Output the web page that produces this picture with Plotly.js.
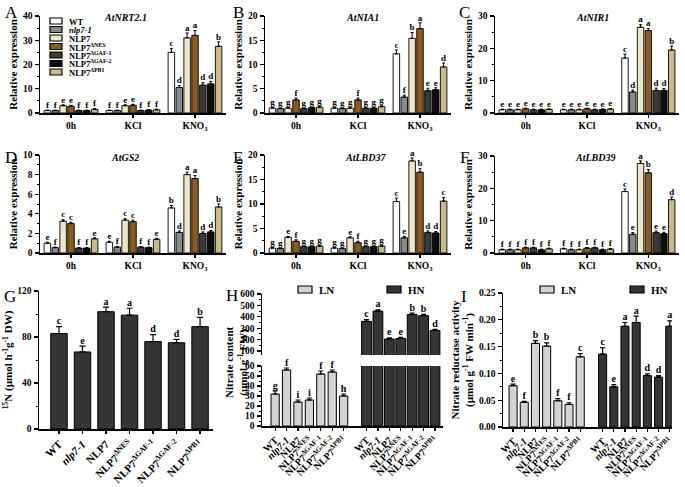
<!DOCTYPE html>
<html>
<head>
<meta charset="utf-8">
<script src="https://cdn.plot.ly/plotly-3.0.1.min.js"></script>
<style>html,body{margin:0;padding:0;background:#fff;}#chart{width:685px;height:487px;}</style>
</head>
<body>
<div id="chart"></div>
<script>
// ---------------- DATA ----------------
const seriesNames = ['WT', '<i>nlp7-1</i>', 'NLP7', 'NLP7<sup>ΔNES</sup>', 'NLP7<sup>ΔGAF-1</sup>', 'NLP7<sup>ΔGAF-2</sup>', 'NLP7<sup>ΔPB1</sup>'];
const treatments = ['0h', 'KCl', 'KNO<sub>3</sub>'];

// rows = treatments (0h, KCl, KNO3), columns = genotypes
const nrtMean = [[1.0, 1.0, 3.0, 2.8, 1.0, 1.0, 1.5], [1.0, 1.0, 3.0, 3.2, 1.0, 1.2, 1.3], [25, 10.5, 31, 32, 11.5, 12, 27.5]];
const nrtErr = [[0.2, 0.2, 0.4, 0.4, 0.2, 0.2, 0.3], [0.2, 0.2, 0.4, 0.4, 0.2, 0.2, 0.3], [1.5, 0.8, 2.0, 2.0, 1.0, 1.0, 1.8]];
const nrtLetters = [['f', 'f', 'e', 'e', 'f', 'f', 'f'], ['f', 'f', 'e', 'e', 'f', 'f', 'f'], ['c', 'd', 'a', 'a', 'd', 'd', 'b']];

const niaMean = [[1.0, 0.9, 1.0, 2.7, 0.9, 1.1, 1.2], [1.0, 0.9, 1.0, 2.7, 1.0, 1.0, 1.3], [12.2, 3.3, 15.4, 17.4, 4.6, 4.8, 9.5]];
const niaErr = [[0.15, 0.1, 0.15, 0.4, 0.1, 0.1, 0.2], [0.15, 0.1, 0.15, 0.4, 0.1, 0.1, 0.2], [0.8, 0.4, 1.2, 1.2, 0.5, 0.4, 0.8]];
const niaLetters = [['g', 'g', 'g', 'f', 'g', 'g', 'g'], ['g', 'g', 'g', 'f', 'g', 'g', 'g'], ['c', 'f', 'b', 'a', 'e', 'e', 'd']];

const nirMean = [[1.0, 1.0, 1.0, 1.3, 1.0, 1.0, 1.1], [1.0, 1.0, 1.0, 1.3, 1.0, 1.1, 1.2], [17, 6.5, 26.5, 25.5, 7.0, 7.0, 19.5]];
const nirErr = [[0.2, 0.2, 0.2, 0.2, 0.2, 0.2, 0.2], [0.2, 0.2, 0.2, 0.2, 0.2, 0.2, 0.2], [1.2, 0.6, 0.8, 0.6, 0.7, 0.6, 1.2]];
const nirLetters = [['e', 'e', 'e', 'e', 'e', 'e', 'e'], ['e', 'e', 'e', 'e', 'e', 'e', 'e'], ['c', 'd', 'a', 'a', 'd', 'd', 'b']];

const gs2Mean = [[1.0, 0.55, 3.25, 3.0, 0.5, 0.5, 1.45], [1.1, 0.6, 3.35, 3.2, 0.6, 0.55, 1.4], [4.6, 2.1, 8.0, 7.6, 2.0, 2.15, 4.7]];
const gs2Err = [[0.1, 0.05, 0.15, 0.15, 0.05, 0.05, 0.1], [0.1, 0.05, 0.15, 0.15, 0.05, 0.05, 0.1], [0.25, 0.15, 0.25, 0.3, 0.15, 0.15, 0.3]];
const gs2Letters = [['e', 'f', 'c', 'c', 'f', 'f', 'e'], ['e', 'f', 'c', 'c', 'f', 'f', 'e'], ['b', 'd', 'a', 'a', 'd', 'd', 'b']];

const lbd37Mean = [[1.0, 0.9, 3.2, 2.4, 1.3, 1.3, 1.4], [1.0, 0.9, 3.1, 2.1, 1.3, 1.3, 1.4], [10.5, 3.1, 18.8, 16.5, 4.2, 4.1, 10.6]];
const lbd37Err = [[0.15, 0.1, 0.2, 0.3, 0.1, 0.1, 0.15], [0.15, 0.1, 0.2, 0.3, 0.1, 0.1, 0.15], [0.7, 0.3, 0.6, 0.7, 0.3, 0.3, 0.7]];
const lbd37Letters = [['g', 'g', 'e', 'f', 'g', 'g', 'g'], ['g', 'g', 'e', 'f', 'g', 'g', 'g'], ['c', 'e', 'a', 'b', 'd', 'd', 'c']];

const lbd39Mean = [[1.0, 1.0, 1.0, 1.6, 1.6, 1.0, 1.3], [1.3, 1.0, 1.0, 1.5, 1.6, 1.0, 1.2], [19, 5.8, 27.7, 24.8, 6.3, 6.0, 16.5]];
const lbd39Err = [[0.2, 0.2, 0.2, 0.2, 0.2, 0.2, 0.2], [0.2, 0.2, 0.2, 0.2, 0.2, 0.2, 0.2], [0.8, 0.5, 0.8, 1.0, 0.5, 0.4, 0.8]];
const lbd39Letters = [['f', 'f', 'f', 'f', 'f', 'f', 'f'], ['f', 'f', 'f', 'f', 'f', 'f', 'f'], ['c', 'e', 'a', 'b', 'e', 'e', 'd']];

// G: 15N uptake
const n15Mean = [83, 67, 102, 99, 76, 75, 89];
const n15Err = [6, 5, 4, 6, 6, 3, 8];
const n15Letters = ['c', 'e', 'a', 'a', 'd', 'd', 'b'];

// H: nitrate content
const nitrateLN = [32, 56, 24, 26, 52, 54, 30];
const nitrateLNErr = [3, 2, 2, 2, 3, 2, 2];
const nitrateLNLetters = ['g', 'f', 'i', 'i', 'f', 'f', 'h'];
const nitrateHN = [360, 450, 205, 210, 420, 410, 280];
const nitrateHNErr = [15, 10, 10, 10, 12, 12, 10];
const nitrateHNLetters = ['c', 'a', 'e', 'e', 'b', 'b', 'd'];

// I: nitrate reductase activity
const nrLN = [0.077, 0.046, 0.156, 0.151, 0.049, 0.042, 0.131];
const nrLNErr = [0.003, 0.002, 0.005, 0.006, 0.004, 0.003, 0.006];
const nrLNLetters = ['e', 'f', 'b', 'b', 'f', 'f', 'c'];
const nrHN = [0.136, 0.075, 0.188, 0.195, 0.096, 0.093, 0.188];
const nrHNErr = [0.012, 0.004, 0.007, 0.012, 0.003, 0.003, 0.010];
const nrHNLetters = ['c', 'e', 'a', 'a', 'd', 'd', 'a'];

const conditionNames = ['LN', 'HN'];

// ---------------- STYLE / LAYOUT ----------------
const FONT = 'Liberation Serif, Times New Roman, serif';
const W = 685, HGT = 487;
const fx = p => p / W;
const fy = p => 1 - p / HGT;
const seriesColors = ['#ffffff', '#8a8a8a', '#efe6c8', '#8a5a1e', '#3a3a3a', '#0e0e0e', '#c9b98b'];
const lnColor = '#d3d3d3', hnColor = '#353535';

const traces = [];
const layout = {
  width: W, height: HGT, margin: {l: 0, r: 0, t: 0, b: 0},
  paper_bgcolor: '#fff', plot_bgcolor: 'rgba(0,0,0,0)',
  showlegend: false, barmode: 'overlay',
  font: {family: FONT, color: '#000', size: 9},
  annotations: [], shapes: []
};

function yAxisBase(extra) {
  return Object.assign({
    showline: true, linecolor: '#000', linewidth: 1.5, ticks: 'outside', ticklen: 4, tickwidth: 1.2, tickcolor: '#000',
    showgrid: false, zeroline: false, fixedrange: true, automargin: false,
    tickfont: {family: FONT, size: 9.5, weight: 'bold', color: '#000'}
  }, extra);
}
function xAxisBase(extra) {
  return Object.assign({
    showline: true, linecolor: '#000', linewidth: 1.5, ticks: 'outside', ticklen: 3, tickwidth: 1.2, tickcolor: '#000',
    showgrid: false, zeroline: false, fixedrange: true, automargin: false,
    tickfont: {family: FONT, size: 9.5, weight: 'bold', color: '#000'}
  }, extra);
}
function tag(letter, x, y) {
  layout.annotations.push({text: letter, x: fx(x), y: fy(y), xref: 'paper', yref: 'paper', showarrow: false,
    font: {family: FONT, size: 17, color: '#000'}, xanchor: 'center', yanchor: 'middle'});
}
function letterTrace(xa, ya, xs, ys, texts, size) {
  traces.push({type: 'scatter', mode: 'text', xaxis: xa, yaxis: ya, x: xs, y: ys, text: texts,
    textposition: 'top center', cliponaxis: false, hoverinfo: 'skip',
    textfont: {family: FONT, size: size || 9, weight: 'bold', color: '#000'}});
}

const genePanels = [
  {n: 1, px: [40, 226], py: [16, 113], max: 40, dtick: 10, mean: nrtMean, err: nrtErr, lets: nrtLetters, gene: 'AtNRT2.1', g: [125, 17], tag: 'A', t: [11, 12]},
  {n: 2, px: [265, 451], py: [16, 113], max: 20, dtick: 5, mean: niaMean, err: niaErr, lets: niaLetters, gene: 'AtNIA1', g: [362, 17], tag: 'B', t: [238, 12]},
  {n: 3, px: [495, 679], py: [16, 113], max: 30, dtick: 10, mean: nirMean, err: nirErr, lets: nirLetters, gene: 'AtNIR1', g: [592, 17], tag: 'C', t: [464, 12]},
  {n: 4, px: [40, 226], py: [155, 253], max: 10, dtick: 2, mean: gs2Mean, err: gs2Err, lets: gs2Letters, gene: 'AtGS2', g: [125, 157], tag: 'D', t: [11, 157]},
  {n: 5, px: [265, 451], py: [155, 253], max: 20, dtick: 5, mean: lbd37Mean, err: lbd37Err, lets: lbd37Letters, gene: 'AtLBD37', g: [365, 157], tag: 'E', t: [238, 157]},
  {n: 6, px: [495, 679], py: [156, 253], max: 30, dtick: 10, mean: lbd39Mean, err: lbd39Err, lets: lbd39Letters, gene: 'AtLBD39', g: [595, 157], tag: 'F', t: [465, 157]}
];
const slot = 0.127, barW = 0.105;

genePanels.forEach(p => {
  const xa = 'x' + (p.n === 1 ? '' : p.n), ya = 'y' + (p.n === 1 ? '' : p.n);
  const xk = 'xaxis' + (p.n === 1 ? '' : p.n), yk = 'yaxis' + (p.n === 1 ? '' : p.n);
  layout[xk] = xAxisBase({domain: [fx(p.px[0]), fx(p.px[1])], anchor: ya, range: [-0.5, 2.5],
    tickmode: 'array', tickvals: treatments.map((_, i) => i), ticktext: treatments});
  layout[yk] = yAxisBase({domain: [fy(p.py[1]), fy(p.py[0])], anchor: xa, range: [0, p.max], dtick: p.dtick,
    minor: {ticks: 'outside', ticklen: 2, dtick: p.dtick / 2, tickcolor: '#000', tickwidth: 1},
    title: {text: 'Relative expression', standoff: 3, font: {family: FONT, size: 11, weight: 'bold', color: '#000'}}});
  const lx = [], ly = [], lt = [];
  seriesNames.forEach((name, s) => {
    const xs = treatments.map((_, t) => t + (s - 3) * slot);
    const ys = p.mean.map(r => r[s]);
    const es = p.err.map(r => r[s]);
    traces.push({type: 'bar', name: name, xaxis: xa, yaxis: ya, x: xs, y: ys, width: barW,
      marker: {color: seriesColors[s], line: {color: '#000', width: 0.9}},
      error_y: {type: 'data', symmetric: false, array: es, arrayminus: es.map(() => 0), color: '#000', thickness: 1, width: 1.5}});
    xs.forEach((x, t) => { lx.push(x); ly.push(ys[t] + es[t]); lt.push(p.lets[t][s]); });
  });
  letterTrace(xa, ya, lx, ly, lt, 9);
  layout.annotations.push({text: '<b><i>' + p.gene + '</i></b>', x: fx(p.g[0]), y: fy(p.g[1]), xref: 'paper', yref: 'paper',
    showarrow: false, font: {family: FONT, size: 10, color: '#000'}, xanchor: 'center', yanchor: 'middle'});
  tag(p.tag, p.t[0], p.t[1]);
});

// Legend for A (manual)
seriesNames.forEach((name, s) => {
  const cy = 21 + s * 8.5;
  layout.shapes.push({type: 'rect', xref: 'paper', yref: 'paper', x0: fx(50), x1: fx(62), y0: fy(cy + 3), y1: fy(cy - 3),
    fillcolor: seriesColors[s], line: {color: '#000', width: 1.2}});
  layout.annotations.push({text: name, x: fx(67), y: fy(cy + 0.5), xref: 'paper', yref: 'paper', showarrow: false,
    xanchor: 'left', yanchor: 'middle', font: {family: FONT, size: 8.5, weight: 'bold', color: '#000'}});
});

// ---------------- G ----------------
const genoIdx = seriesNames.map((_, i) => i);
layout.xaxis7 = xAxisBase({domain: [fx(39), fx(213)], anchor: 'y7', range: [-0.85, 6.55], tickmode: 'array',
  tickvals: genoIdx, ticktext: seriesNames, tickangle: -45, tickfont: {family: FONT, size: 11, weight: 'bold', color: '#000'}});
layout.yaxis7 = yAxisBase({domain: [fy(429), fy(291)], anchor: 'x7', range: [0, 120], dtick: 40,
  minor: {ticks: 'outside', ticklen: 2, dtick: 20, tickcolor: '#000', tickwidth: 1},
  title: {text: '<sup>15</sup>N (µmol h<sup>-1</sup>g<sup>-1</sup> DW)', standoff: 2, font: {family: FONT, size: 11, weight: 'bold', color: '#000'}}});
traces.push({type: 'bar', xaxis: 'x7', yaxis: 'y7', x: genoIdx, y: n15Mean, width: 0.7,
  marker: {color: hnColor, line: {color: '#000', width: 1}},
  error_y: {type: 'data', symmetric: false, array: n15Err, arrayminus: n15Err.map(() => 0), color: '#000', thickness: 1.2, width: 3}});
letterTrace('x7', 'y7', genoIdx, n15Mean.map((v, i) => v + n15Err[i]), n15Letters, 10);
tag('G', 10, 296);

// ---------------- H (broken axis) ----------------
const hnShift = 8;
const lnX = genoIdx;
const hnX = genoIdx.map(i => i + hnShift);
const hTickVals = lnX.concat(hnX);
const hTickText = seriesNames.concat(seriesNames);
const rotFont = {family: FONT, size: 10, weight: 'bold', color: '#000'};
layout.xaxis8 = xAxisBase({domain: [fx(262), fx(443)], anchor: 'y8', range: [-1.15, 14.7], tickmode: 'array',
  tickvals: hTickVals, ticktext: hTickText, tickangle: -45, tickfont: rotFont});
layout.yaxis8 = yAxisBase({domain: [fy(426), fy(366)], anchor: 'x8', range: [0, 60], dtick: 10,
  minor: {ticks: 'outside', ticklen: 2, dtick: 5, tickcolor: '#000', tickwidth: 1}});
layout.xaxis9 = xAxisBase({domain: [fx(262), fx(443)], anchor: 'y9', range: [-1.15, 14.7], visible: false});
layout.yaxis9 = yAxisBase({domain: [fy(355), fy(294)], anchor: 'x9', range: [65, 600], tickvals: [100, 200, 300, 400, 500, 600],
  minor: {ticks: 'outside', ticklen: 2, tickvals: [150, 250, 350, 450, 550], tickcolor: '#000', tickwidth: 1}});
// LN bars (lower segment)
traces.push({type: 'bar', name: conditionNames[0], xaxis: 'x8', yaxis: 'y8', x: lnX, y: nitrateLN, width: 0.72, offsetgroup: 'h',
  marker: {color: lnColor, line: {color: '#000', width: 1}},
  error_y: {type: 'data', symmetric: false, array: nitrateLNErr, arrayminus: nitrateLNErr.map(() => 0), color: '#000', thickness: 1.2, width: 2.5}});
letterTrace('x8', 'y8', lnX, nitrateLN.map((v, i) => v + nitrateLNErr[i]), nitrateLNLetters, 10);
// HN bars, drawn in both segments
['8', '9'].forEach(k => {
  traces.push({type: 'bar', name: conditionNames[1], xaxis: 'x' + k, yaxis: 'y' + k, x: hnX, y: nitrateHN, width: 0.86, offsetgroup: 'h',
    marker: {color: hnColor, line: {color: '#000', width: 1}},
    error_y: {type: 'data', symmetric: false, array: nitrateHNErr, arrayminus: nitrateHNErr.map(() => 0), color: '#000', thickness: 1.2, width: 2.5}});
});
letterTrace('x9', 'y9', hnX, nitrateHN.map((v, i) => v + nitrateHNErr[i]), nitrateHNLetters, 10);
layout.annotations.push({text: 'Nitrate content<br>(µmol g<sup>-1</sup> FW)', x: fx(236), y: fy(362), xref: 'paper', yref: 'paper',
  showarrow: false, textangle: -90, xanchor: 'center', yanchor: 'middle',
  font: {family: FONT, size: 11, weight: 'bold', color: '#000'}});
tag('H', 232, 295);

// ---------------- I ----------------
layout.xaxis10 = xAxisBase({domain: [fx(503), fx(672)], anchor: 'y10', range: [-0.9, 14.2], tickmode: 'array',
  tickvals: hTickVals, ticktext: hTickText, tickangle: -45, tickfont: rotFont});
layout.yaxis10 = yAxisBase({domain: [fy(427), fy(293)], anchor: 'x10', range: [0, 0.25], dtick: 0.05, tickformat: '.2f',
  minor: {ticks: 'outside', ticklen: 2, dtick: 0.025, tickcolor: '#000', tickwidth: 1},
  title: {text: 'Nitrate reductase activity<br>(µmol g<sup>-1</sup> FW min<sup>-1</sup>)', standoff: 3, font: {family: FONT, size: 11, weight: 'bold', color: '#000'}}});
traces.push({type: 'bar', name: conditionNames[0], xaxis: 'x10', yaxis: 'y10', x: lnX, y: nrLN, width: 0.72, offsetgroup: 'i',
  marker: {color: lnColor, line: {color: '#000', width: 1}},
  error_y: {type: 'data', symmetric: false, array: nrLNErr, arrayminus: nrLNErr.map(() => 0), color: '#000', thickness: 1.2, width: 2.5}});
traces.push({type: 'bar', name: conditionNames[1], xaxis: 'x10', yaxis: 'y10', x: hnX, y: nrHN, width: 0.72, offsetgroup: 'i',
  marker: {color: hnColor, line: {color: '#000', width: 1}},
  error_y: {type: 'data', symmetric: false, array: nrHNErr, arrayminus: nrHNErr.map(() => 0), color: '#000', thickness: 1.2, width: 2.5}});
letterTrace('x10', 'y10', lnX, nrLN.map((v, i) => v + nrLNErr[i]), nrLNLetters, 10);
letterTrace('x10', 'y10', hnX, nrHN.map((v, i) => v + nrHNErr[i]), nrHNLetters, 10);
tag('I', 464, 296);

// LN / HN legends for H and I (manual)
[[298, 387], [540, 630]].forEach(pos => {
  conditionNames.forEach((c, k) => {
    const x0 = pos[k];
    layout.shapes.push({type: 'rect', xref: 'paper', yref: 'paper', x0: fx(x0), x1: fx(x0 + 14), y0: fy(293), y1: fy(286),
      fillcolor: k === 0 ? lnColor : hnColor, line: {color: '#000', width: 1.2}});
    layout.annotations.push({text: c, x: fx(x0 + 19), y: fy(289.5), xref: 'paper', yref: 'paper', showarrow: false,
      xanchor: 'left', yanchor: 'middle', font: {family: FONT, size: 11, weight: 'bold', color: '#000'}});
  });
});

Plotly.newPlot('chart', traces, layout, {displayModeBar: false, staticPlot: true});
</script>
</body>
</html>
